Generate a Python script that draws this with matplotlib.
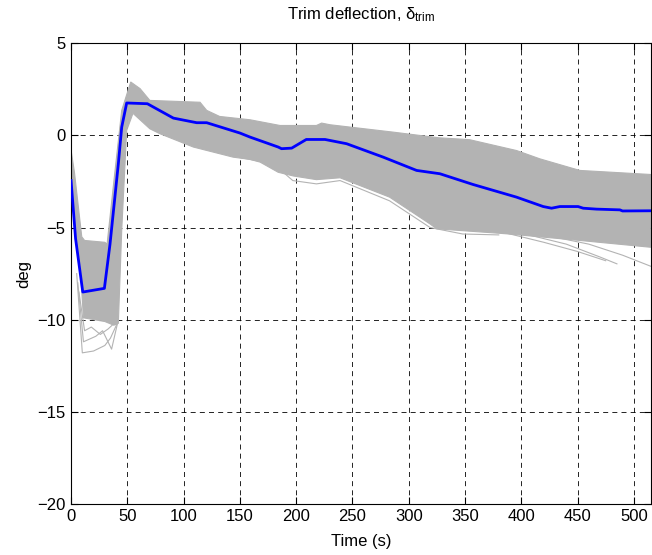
import numpy as np
import matplotlib
matplotlib.use("Agg")
from matplotlib import pyplot as plt

# nominal trim deflection (blue)
t_nom = [0, 4, 10.4, 29.6, 34.6, 42, 45, 49.4, 67.8, 90.9, 111.6, 120.5, 150, 159,
         184, 187, 196, 209, 225.6, 244.8, 277.4, 307, 327.7, 357, 395.8, 419.5,
         426.9, 434.3, 450.5, 455, 466.9, 487.6, 490, 515]
d_nom = [-2.45, -5.6, -8.5, -8.3, -5.9, -1.54, 0.45, 1.76, 1.72, 0.94, 0.69, 0.69,
         0.13, -0.09, -0.63, -0.72, -0.69, -0.22, -0.22, -0.45, -1.18, -1.9, -2.08,
         -2.66, -3.35, -3.86, -3.95, -3.86, -3.86, -3.95, -4.0, -4.04, -4.1, -4.09]

# Monte Carlo spread: upper envelope
t_up = [0, 3, 9.5, 12, 30, 32, 38, 45, 53, 61.3, 70, 114.6, 120.5, 132, 159, 185.6,
        218, 222.6, 230, 286, 327, 354, 395.8, 416.5, 452, 515]
d_up = [-0.8, -2.0, -5.5, -5.7, -5.8, -5.9, -2.5, 1.36, 2.9, 2.54, 1.9, 1.8, 1.36,
        1.03, 0.85, 0.54, 0.54, 0.67, 0.58, 0.18, -0.13, -0.23, -0.82, -1.27, -1.9,
        -2.12]

# Monte Carlo spread: lower envelope
t_lo = [0, 8, 11, 30, 38, 42, 45, 49.4, 55, 70, 79, 108.6, 144, 159, 168, 184,
        197.4, 218, 239, 283, 318.8, 325, 387, 452, 515]
d_lo = [-3.3, -7.0, -9.9, -10.1, -10.3, -10.2, -5.16, 0.27, 1.2, 0.36, 0.09, -0.63,
        -1.18, -1.3, -1.45, -2.0, -2.2, -2.4, -2.3, -3.35, -4.8, -5.07, -5.34, -5.7,
        -6.07]

# a few outlying runs
out_runs = [
    ([5, 10, 20, 30, 35, 41], [-7.5, -11.8, -11.7, -11.4, -11.0, -10.2]),
    ([6, 11, 22, 28, 36, 42], [-8.0, -11.2, -10.9, -10.6, -11.6, -10.0]),
    ([7, 12, 18, 26, 33, 40], [-8.5, -10.6, -10.4, -10.8, -10.5, -10.1]),
    ([150, 180, 197, 218, 239, 283, 319, 348, 380], [-1.2, -1.55, -2.45, -2.63, -2.45, -3.55, -5.0, -5.35, -5.4]),
    ([400, 440, 470, 485], [-5.3, -5.9, -6.6, -6.97]),
    ([420, 460, 490, 515], [-5.4, -5.9, -6.5, -7.1]),
    ([380, 420, 450, 475], [-5.2, -5.8, -6.3, -6.8]),
]

x_ticks = [0, 50, 100, 150, 200, 250, 300, 350, 400, 450, 500]
y_ticks = [-20, -15, -10, -5, 0, 5]

plt.rcParams['font.family'] = ['Liberation Sans', 'DejaVu Sans']
plt.rcParams['mathtext.fontset'] = 'custom'
plt.rcParams['mathtext.rm'] = 'Liberation Sans'
plt.rcParams['mathtext.it'] = 'Liberation Sans:italic'

fig = plt.figure(figsize=(6.52, 5.55), dpi=100)
ax = fig.add_axes([0.109, 0.092, 0.889, 0.830])

gray = (0.7, 0.7, 0.7)
ax.fill(np.r_[t_up, t_lo[::-1]], np.r_[d_up, d_lo[::-1]], color=gray, lw=0.8,
        zorder=2)
for tx, dx in out_runs:
    ax.plot(tx, dx, color=gray, lw=0.8, zorder=2)
ax.plot(t_nom, d_nom, color=(0, 0, 1), lw=2, zorder=3)

ax.set_xlim(0, 515)
ax.set_ylim(-20, 5)
ax.set_xticks(x_ticks)
ax.set_yticks(y_ticks)
ax.grid(True, color='black', linestyle=(0, (6, 5)), lw=0.6)
ax.set_axisbelow(True)
ax.tick_params(direction='in', top=True, right=True, labelsize=12, length=5,
               pad=4)
for s in ax.spines.values():
    s.set_linewidth(0.8)

ax.set_xlabel('Time (s)', fontsize=12, labelpad=7)
ax.set_ylabel('deg', fontsize=12, labelpad=4)
ax.set_title(r'Trim deflection, $\mathrm{δ}_{\mathrm{trim}}$', fontsize=12, pad=17)

fig.savefig('out.png', dpi=100)
